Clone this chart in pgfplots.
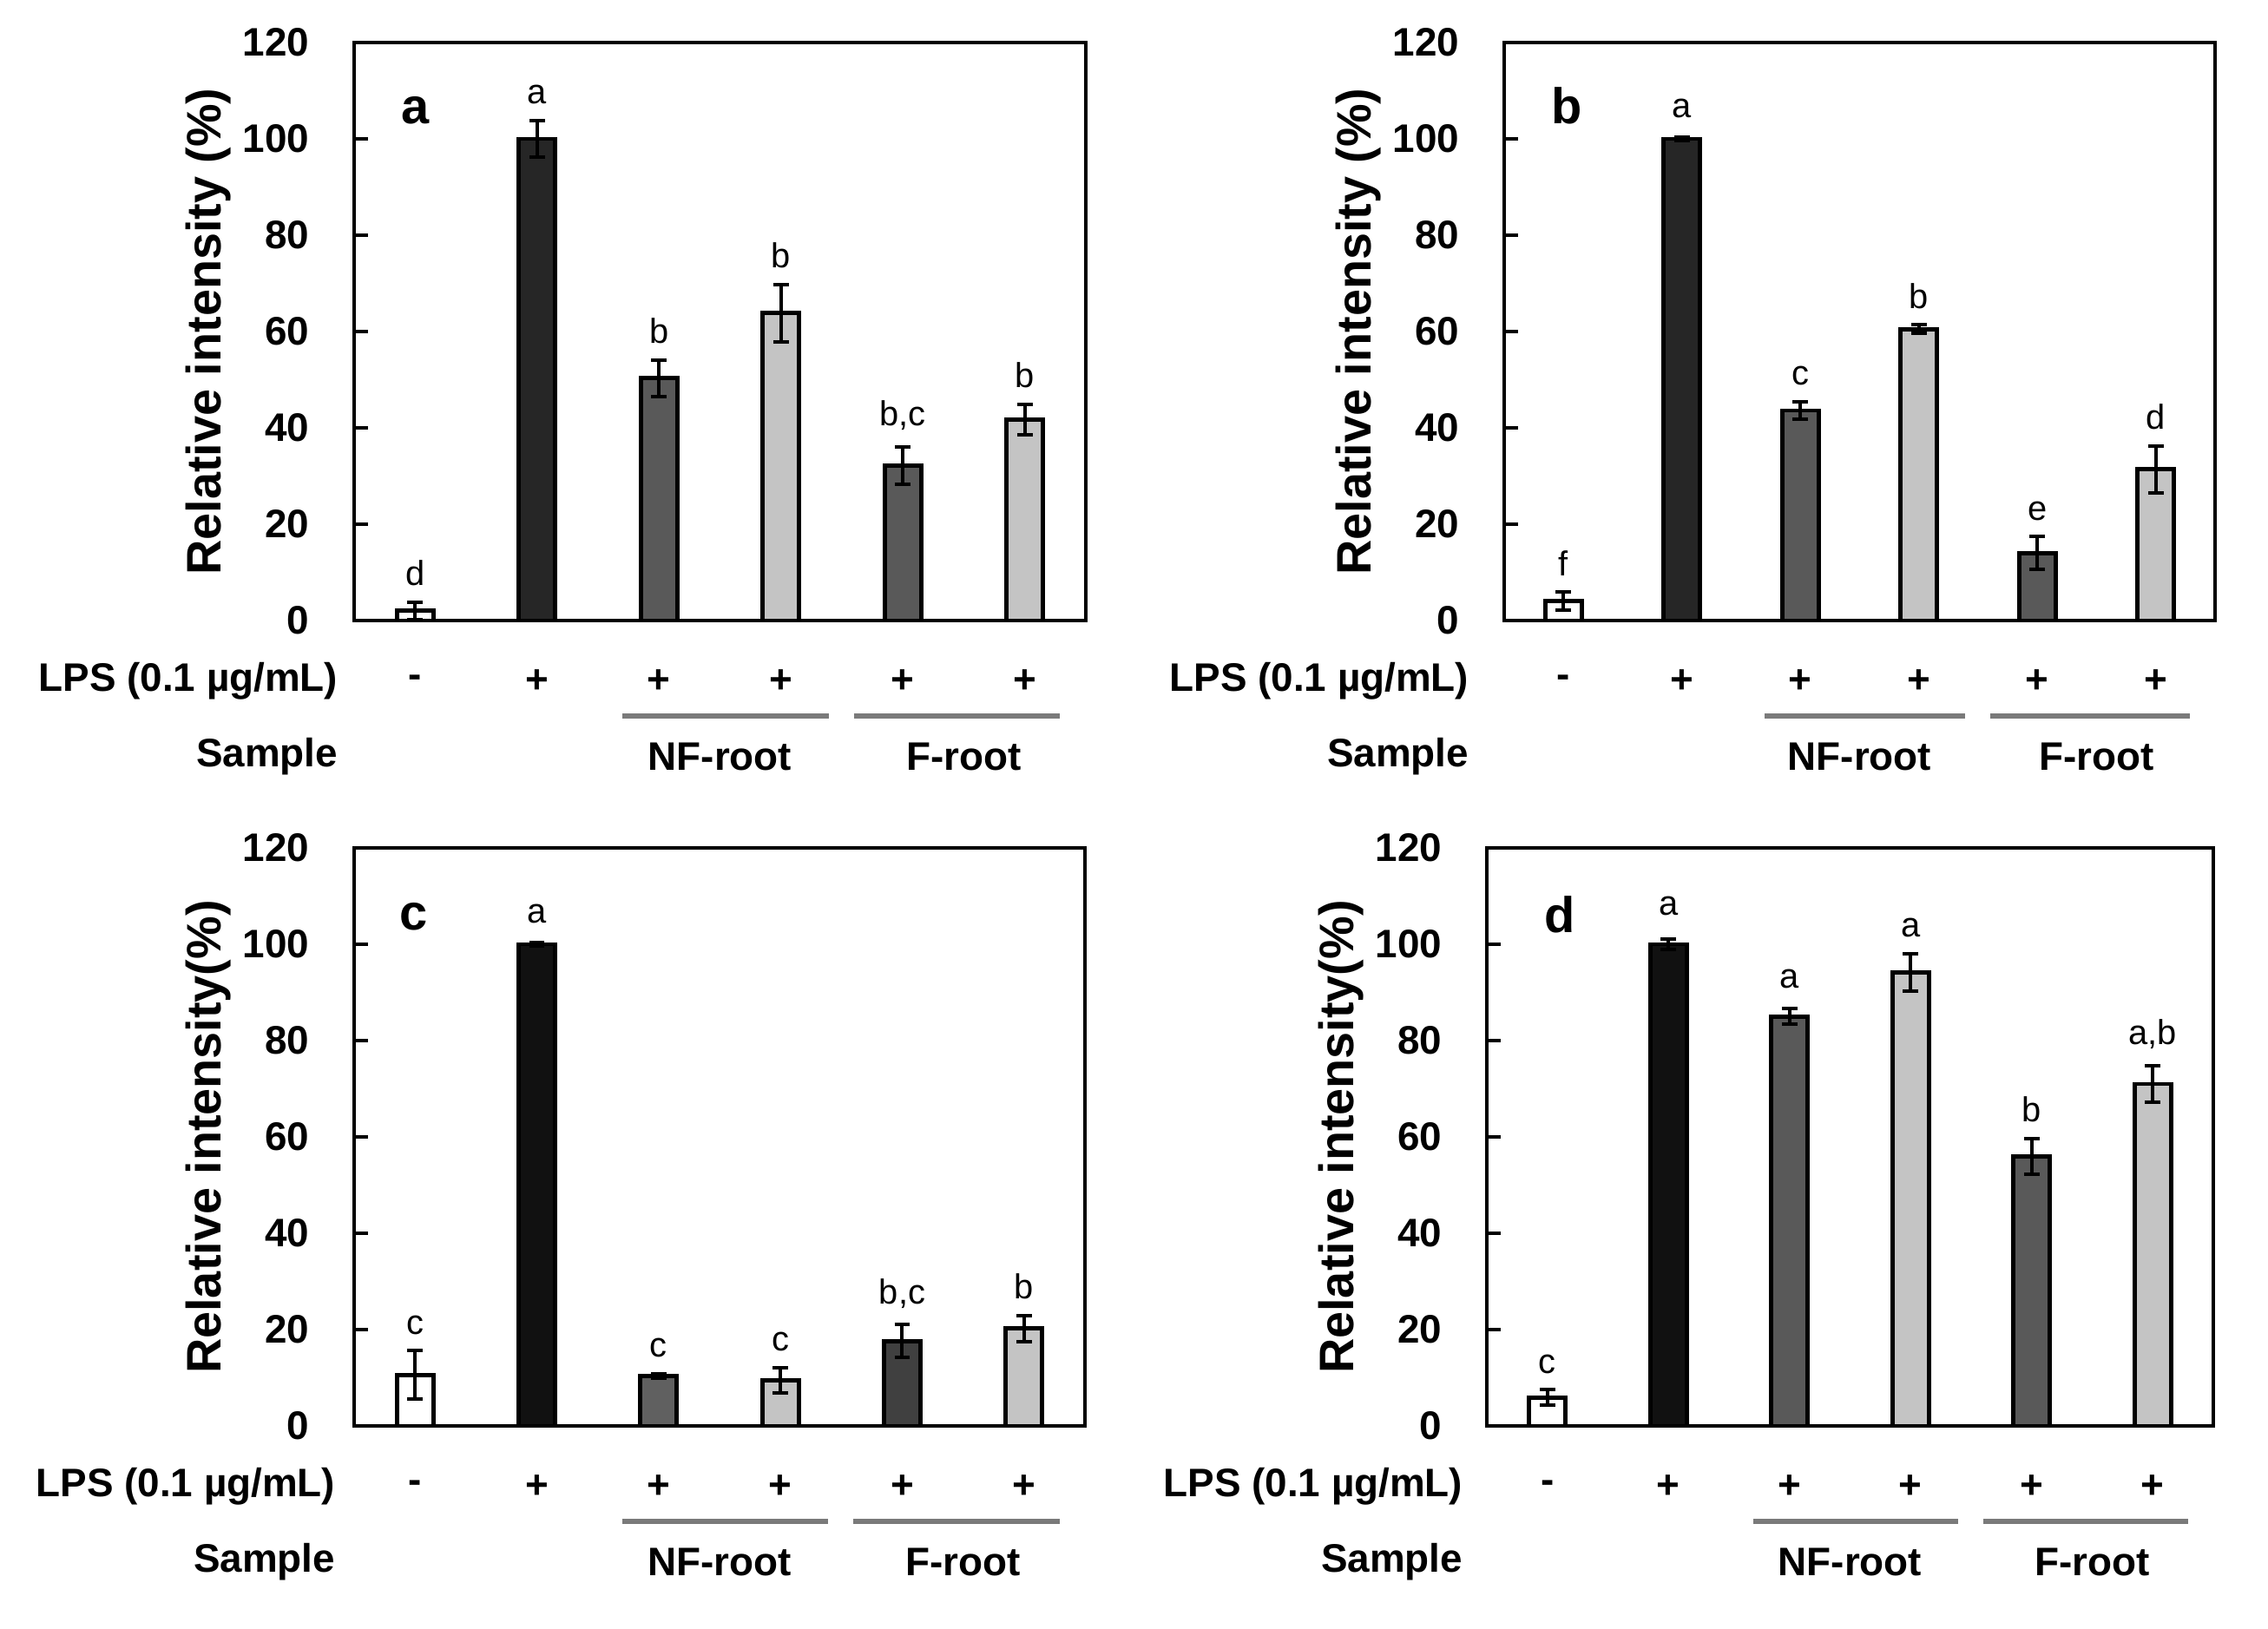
\documentclass[border=0pt]{standalone}
\usepackage{pgfplots}
\pgfplotsset{compat=1.18}
\usepackage{fontspec}
\setmainfont{Liberation Sans}
\definecolor{dk}{HTML}{262626}
\definecolor{blk}{HTML}{111111}
\definecolor{mid}{HTML}{595959}
\definecolor{midc}{HTML}{606060}
\definecolor{dkc}{HTML}{404040}
\definecolor{lt}{HTML}{C4C4C4}
\definecolor{linegray}{HTML}{7A7A7A}
\newcommand{\onebar}[4]{\addplot[fill=#1] coordinates {(#2,#3) +- (0,#4)};}
\newcommand{\sig}[3]{\node[siglab] at (axis cs:#1,#2) {#3};}
\newcommand{\rows}[1]{%
  \node[rowlab,anchor=east] at ([xshift=#1]axis cs:0,-12.6) {LPS (0.1 µg/mL)};
  \node[rowlab] at (axis cs:0.5,-12.6) {-};
  \node[rowlab] at (axis cs:1.5,-12.6) {+};
  \node[rowlab] at (axis cs:2.5,-12.6) {+};
  \node[rowlab] at (axis cs:3.5,-12.6) {+};
  \node[rowlab] at (axis cs:4.5,-12.6) {+};
  \node[rowlab] at (axis cs:5.5,-12.6) {+};
  \draw[linegray,line width=1.5bp] (axis cs:2.2,-19.8) -- (axis cs:3.89,-19.8);
  \draw[linegray,line width=1.5bp] (axis cs:4.1,-19.8) -- (axis cs:5.79,-19.8);
  \node[rowlab,anchor=east] at ([xshift=#1]axis cs:0,-28.3) {Sample};
  \node[rowlab] at (axis cs:3,-28.3) {NF-root};
  \node[rowlab] at (axis cs:5,-28.3) {F-root};
}
\tikzset{
  siglab/.style={anchor=south,inner sep=0pt,yshift=4.5bp,font=\fontsize{10}{10}\selectfont},
  rowlab/.style={inner sep=0pt,font=\bfseries\fontsize{11.5}{12}\selectfont},
  ylab/.style={rotate=90,inner sep=0pt,font=\bfseries\fontsize{14}{14}\selectfont},
  plab/.style={anchor=base,inner sep=0pt,font=\bfseries\fontsize{14.5}{14.5}\selectfont},
}
\pgfplotsset{panel/.style={
  scale only axis, height=166.5bp, anchor=south west,
  xmin=0, xmax=6, ymin=0, ymax=120,
  ytick={0,20,...,120}, xtick=\empty, ytick pos=left,
  tick align=inside, major tick length=4bp,
  every tick/.style={black,line width=1bp},
  axis line style={line width=1bp},
  ticklabel style={font=\bfseries\fontsize{11.5}{12}\selectfont},
  yticklabel style={inner sep=0pt,xshift=-12.75bp},
  /pgf/number format/assume math mode=true,
  ybar, bar shift=0pt, bar width=10.5bp,
  clip=false,
  every axis plot/.append style={draw=black,line width=1.2bp,
    error bars/y dir=both, error bars/y explicit,
    error bars/error bar style={line width=1bp,black},
    error bars/error mark options={rotate=90,mark size=2.2bp,line width=1bp,black}},
}}
\begin{document}
\begin{tikzpicture}
\path[use as bounding box] (0,0) rectangle (653.25bp,469.25bp);
% panel a
\begin{axis}[panel, width=210.75bp, at={(102bp,290.5bp)}]
\onebar{white}{0.5}{2.0}{1.8}
\onebar{dk}{1.5}{100}{3.8}
\onebar{mid}{2.5}{50.3}{3.8}
\onebar{lt}{3.5}{63.8}{6.0}
\onebar{mid}{4.5}{32.2}{3.9}
\onebar{lt}{5.5}{41.7}{3.2}
\sig{0.5}{3.8}{d}
\sig{1.5}{103.8}{a}
\sig{2.5}{54.1}{b}
\sig{3.5}{69.8}{b}
\sig{4.5}{36.1}{b,c}
\sig{5.5}{44.9}{b}
\node[plab] at (axis cs:0.5,103.2) {a};
\node[ylab] at ([xshift=-42bp]rel axis cs:0,0.5) {Relative intensity (\%)};
\rows{-4.5bp}
\end{axis}
% panel b
\begin{axis}[panel, width=204.75bp, at={(433.25bp,290.5bp)}]
\onebar{white}{0.5}{4.0}{1.9}
\onebar{dk}{1.5}{100}{0.3}
\onebar{mid}{2.5}{43.6}{1.8}
\onebar{lt}{3.5}{60.5}{0.9}
\onebar{mid}{4.5}{14.0}{3.4}
\onebar{lt}{5.5}{31.4}{4.9}
\sig{0.5}{5.9}{f}
\sig{1.5}{101}{a}
\sig{2.5}{45.4}{c}
\sig{3.5}{61.4}{b}
\sig{4.5}{17.4}{e}
\sig{5.5}{36.3}{d}
\node[plab] at (axis cs:0.53,103.2) {b};
\node[ylab] at ([xshift=-42bp]rel axis cs:0,0.5) {Relative intensity (\%)};
\rows{-10bp}
\end{axis}
% panel c
\begin{axis}[panel, width=210.5bp, at={(102bp,58.5bp)}]
\onebar{white}{0.5}{10.6}{5.0}
\onebar{blk}{1.5}{100}{0.3}
\onebar{midc}{2.5}{10.4}{0.5}
\onebar{lt}{3.5}{9.5}{2.6}
\onebar{dkc}{4.5}{17.6}{3.4}
\onebar{lt}{5.5}{20.2}{2.7}
\sig{0.5}{15.6}{c}
\sig{1.5}{101}{a}
\sig{2.5}{10.9}{c}
\sig{3.5}{12.1}{c}
\sig{4.5}{21.0}{b,c}
\sig{5.5}{22.9}{b}
\node[plab] at (axis cs:0.49,103) {c};
\node[ylab] at ([xshift=-42bp]rel axis cs:0,0.5) {Relative intensity(\%)};
\rows{-5.25bp}
\end{axis}
% panel d
\begin{axis}[panel, width=209.25bp, at={(428.25bp,58.5bp)}]
\onebar{white}{0.5}{5.9}{1.6}
\onebar{blk}{1.5}{100}{1.0}
\onebar{mid}{2.5}{85.0}{1.6}
\onebar{lt}{3.5}{94.1}{3.9}
\onebar{mid}{4.5}{56.0}{3.7}
\onebar{lt}{5.5}{71.0}{3.8}
\sig{0.5}{7.5}{c}
\sig{1.5}{102.5}{a}
\sig{2.5}{87.5}{a}
\sig{3.5}{98.0}{a}
\sig{4.5}{59.7}{b}
\sig{5.5}{74.8}{a,b}
\node[plab] at (axis cs:0.6,102.5) {d};
\node[ylab] at ([xshift=-42bp]rel axis cs:0,0.5) {Relative intensity(\%)};
\rows{-6.75bp}
\end{axis}
\end{tikzpicture}
\end{document}
